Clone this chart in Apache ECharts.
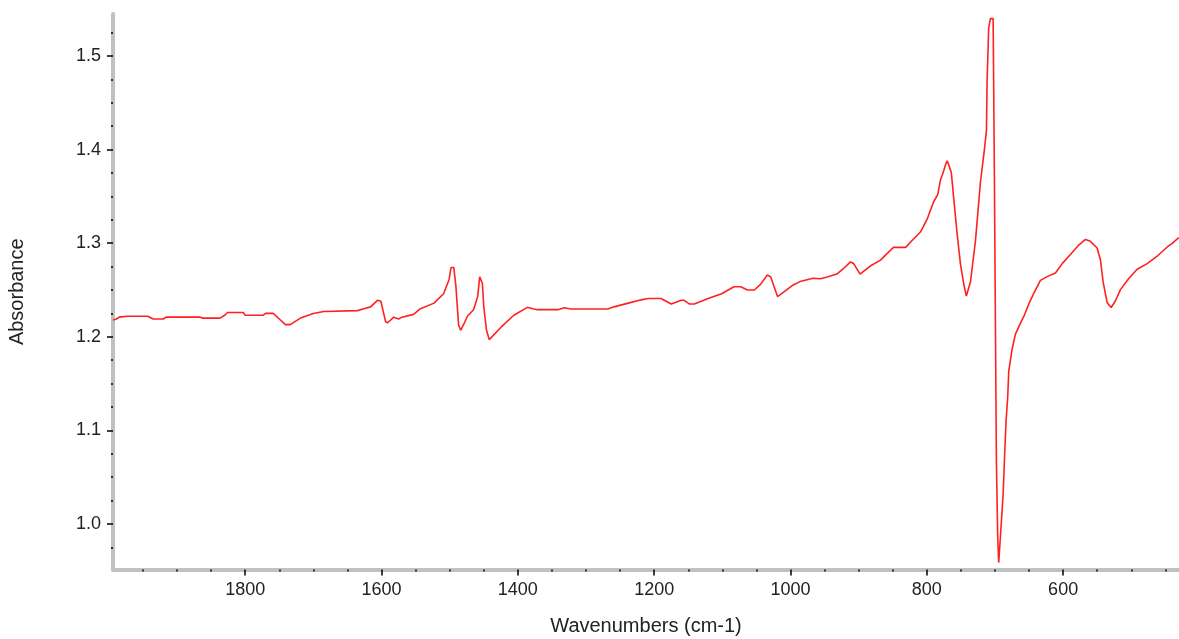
<!DOCTYPE html>
<html>
<head>
<meta charset="utf-8">
<script src="https://cdn.jsdelivr.net/npm/echarts@6/dist/echarts.min.js"></script>
<style>
html,body{margin:0;padding:0;background:#fff;}
#chart{width:1179px;height:639px;}
</style>
</head>
<body>
<div id="chart"></div>
<script>
var wavenumbers = [1994,1989,1985,1973,1943,1935,1920,1916,1866,1863,1837,1830,1826,1803,1800,1774,1770,1759,1750,1741,1734,1719,1700,1685,1635,1626,1616,1606,1601,1594,1591,1582,1575,1570,1553,1543,1523,1509,1501,1498,1494,1491,1487,1484,1479,1474,1465,1459,1456,1452,1450,1446,1442,1425,1406,1386,1378,1371,1341,1332,1322,1268,1259,1238,1219,1209,1190,1175,1160,1156,1148,1141,1121,1101,1083,1073,1063,1053,1044,1034,1029,1019,1015,996,986,967,956,946,932,922,912,907,898,883,868,849,831,821,809,799,790,784,780,777,772,770,767,764,760.5,755.5,750.7,745.8,742,736,728.7,721.3,715.5,712.5,711.5,709.2,706.7,702.7,700.8,699.3,697.9,696,694.5,693,692,688,685.7,683.6,681.3,679.8,674.8,670,662.6,657,652.8,648,643.1,633.3,623.5,611.3,601.4,589.3,577.1,567.3,559.9,550.1,545.2,541.3,535.4,529.5,523.2,515.9,503.7,491.4,476.7,462,447.3,440,430.3];
var absorbance = [1.218,1.219,1.221,1.222,1.222,1.219,1.219,1.221,1.221,1.220,1.220,1.223,1.226,1.226,1.223,1.223,1.225,1.225,1.219,1.213,1.213,1.220,1.225,1.227,1.228,1.230,1.232,1.239,1.238,1.216,1.215,1.221,1.219,1.221,1.224,1.230,1.236,1.246,1.261,1.274,1.274,1.255,1.213,1.207,1.214,1.222,1.229,1.243,1.264,1.257,1.232,1.207,1.197,1.210,1.223,1.2315,1.230,1.229,1.229,1.231,1.2297,1.2297,1.232,1.236,1.2395,1.241,1.241,1.235,1.239,1.239,1.235,1.235,1.241,1.246,1.2535,1.2535,1.250,1.250,1.256,1.266,1.264,1.243,1.245,1.2554,1.259,1.2625,1.262,1.264,1.267,1.273,1.280,1.278,1.267,1.2756,1.282,1.2956,1.2956,1.3034,1.3123,1.3266,1.3443,1.352,1.3675,1.3734,1.385,1.388,1.382,1.3753,1.3476,1.3099,1.2782,1.2564,1.2436,1.2585,1.302,1.3654,1.40,1.421,1.475,1.530,1.540,1.540,1.3675,1.2088,1.066,0.9866,0.9588,0.9588,0.9866,1.032,1.0759,1.1115,1.1354,1.1631,1.187,1.2028,1.2147,1.223,1.2306,1.239,1.2464,1.2603,1.2643,1.2682,1.2782,1.288,1.298,1.304,1.302,1.2949,1.282,1.2585,1.2365,1.2313,1.2385,1.2504,1.2623,1.2722,1.2782,1.2861,1.296,1.2999,1.306];
var xTicks = [1800,1600,1400,1200,1000,800,600];
var yTicks = [1.0,1.1,1.2,1.3,1.4,1.5];

var seriesData = wavenumbers.map(function(v,i){return [v, absorbance[i]];});
var chart = echarts.init(document.getElementById('chart'), null, {renderer:'canvas'});
var font = 'Liberation Sans, Arial, sans-serif';
chart.setOption({
  backgroundColor:'#ffffff',
  animation:false,
  grid:{left:113,right:0,top:14,bottom:69.5,containLabel:false,outerBoundsMode:'none'},
  xAxis:{
    type:'value', inverse:true, min:430, max:1994,
    minInterval:200, maxInterval:200, splitNumber:8,
    name:'Wavenumbers (cm-1)', nameLocation:'middle', nameGap:47,
    nameTextStyle:{color:'#222', fontSize:20, fontFamily:font},
    axisLine:{show:true, lineStyle:{color:'#c0c0c0', width:4}},
    axisTick:{show:true, length:6, customValues:xTicks, lineStyle:{color:'#000', width:1.5}},
    minorTick:{show:true, splitNumber:4, length:2, lineStyle:{color:'#000', width:1.5}},
    axisLabel:{customValues:xTicks, color:'#222', fontSize:18, fontFamily:font, margin:12,
      formatter:function(v){return String(v);}},
    splitLine:{show:false}, minorSplitLine:{show:false}
  },
  yAxis:{
    type:'value', min:0.9514, max:1.5449,
    minInterval:0.1, maxInterval:0.1,
    name:'Absorbance', nameLocation:'middle', nameGap:86, nameRotate:90,
    nameTextStyle:{color:'#222', fontSize:20, fontFamily:font},
    axisLine:{show:true, lineStyle:{color:'#c0c0c0', width:4}},
    axisTick:{show:true, length:6, customValues:yTicks, lineStyle:{color:'#000', width:1.5}},
    minorTick:{show:true, splitNumber:4, length:2, lineStyle:{color:'#000', width:1.5}},
    axisLabel:{customValues:yTicks, color:'#222', fontSize:18, fontFamily:font, margin:12,
      formatter:function(v){return Number(v).toFixed(1);}},
    splitLine:{show:false}, minorSplitLine:{show:false}
  },
  series:[{
    type:'line', data:seriesData, showSymbol:false, symbol:'none',
    lineStyle:{color:'#ff2020', width:1.6}, silent:true
  }]
});
</script>
</body>
</html>
